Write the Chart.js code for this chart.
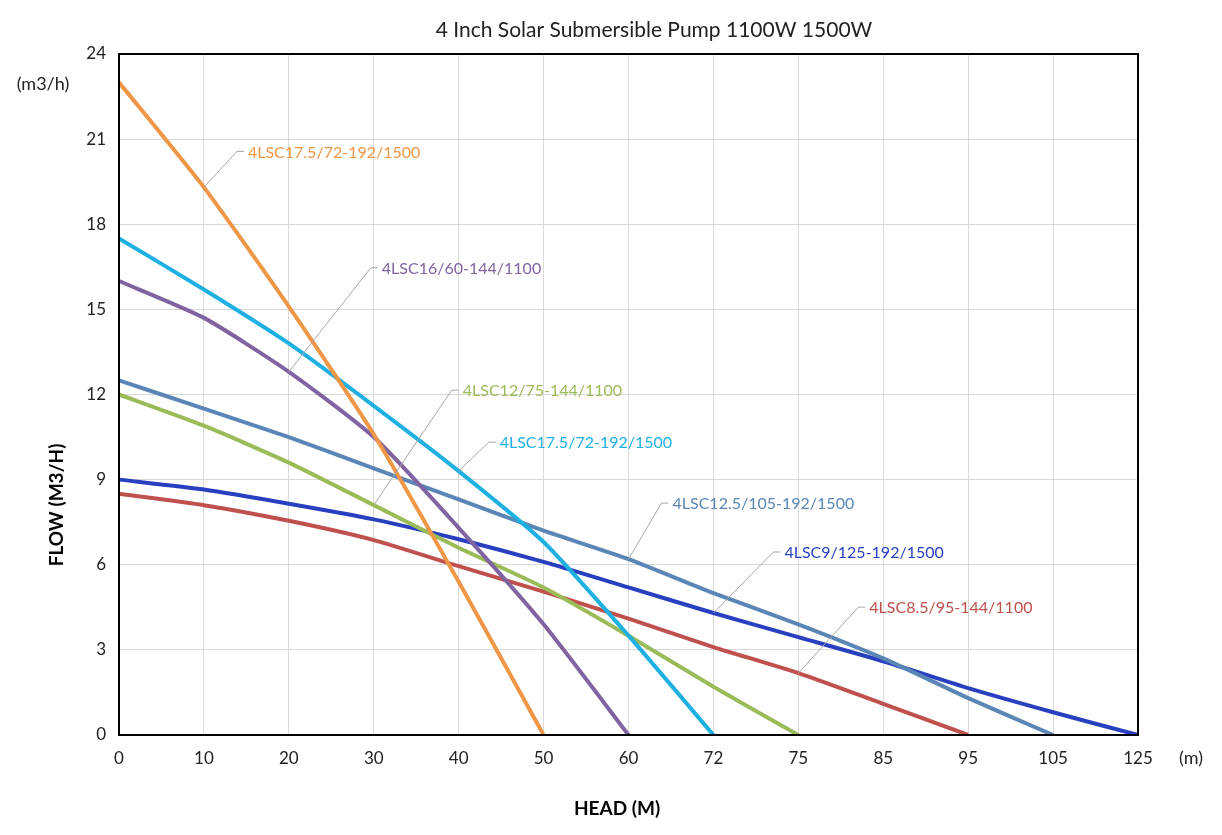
<!DOCTYPE html>
<html>
<head>
<meta charset="utf-8">
<script src="https://cdn.jsdelivr.net/npm/chart.js@4.4.1/dist/chart.umd.min.js"></script>
<style>
  body { margin: 0; background: #fff; }
  canvas { display: block; }
</style>
</head>
<body>
<canvas id="pump" width="1222" height="835"></canvas>
<script>
// head (m) categories along the x axis
var heads = ['0', '10', '20', '30', '40', '50', '60', '72', '75', '85', '95', '105', '125'];

// flow (m3/h) for each pump
var flowOrange = [23, 19.3, 15.1, 10.6, 5.4, 0];
var flowPurple = [16, 14.7, 12.8, 10.5, 7.3, 3.9, 0];
var flowCyan   = [17.5, 15.7, 13.8, 11.6, 9.3, 6.8, 3.5, 0];
var flowSteel  = [12.5, 11.5, 10.5, 9.4, 8.3, 7.2, 6.2, 5.0, 3.9, 2.7, 1.3, 0];
var flowGreen  = [12, 10.9, 9.6, 8.1, 6.6, 5.2, 3.5, 1.7, 0];
var flowBlue   = [9, 8.65, 8.15, 7.6, 6.9, 6.1, 5.2, 4.3, 3.45, 2.6, 1.65, 0.8, 0];
var flowRed    = [8.5, 8.1, 7.55, 6.87, 5.95, 5.05, 4.1, 3.1, 2.18, 1.1, 0];

var pumpNames = ['4LSC17.5/72-192/1500', '4LSC16/60-144/1100', '4LSC17.5/72-192/1500',
  '4LSC12.5/105-192/1500', '4LSC12/75-144/1100', '4LSC9/125-192/1500', '4LSC8.5/95-144/1100'];

var flowTicks = [0, 3, 6, 9, 12, 15, 18, 21, 24];

// where each callout leaves its curve (category index) and how far the label sits
var callouts = [
  { idx: 1, dx: 33, dy: -36 },
  { idx: 2, dx: 82, dy: -104 },
  { idx: 4, dx: 30, dy: -29 },
  { idx: 6, dx: 33, dy: -56 },
  { idx: 3, dx: 78, dy: -115 },
  { idx: 7, dx: 60, dy: -61 },
  { idx: 8, dx: 60, dy: -66 }
];

var colors = ['#ef9647', '#8064a2', '#1eb0e2', '#5a86b6', '#9bbb59', '#2840bf', '#c0504d'];
var FONT = 'Lato, "Open Sans", sans-serif';

function line(name, data, color) {
  return {
    label: name,
    data: data,
    borderColor: color,
    backgroundColor: color,
    borderWidth: 4,
    pointRadius: 0,
    tension: 0.2,
    fill: false
  };
}

var overlay = {
  id: 'overlay',
  afterDraw: function (chart) {
    var ctx = chart.ctx;
    var a = chart.chartArea;
    ctx.save();

    // plot frame
    ctx.strokeStyle = '#000';
    ctx.lineWidth = 2;
    ctx.strokeRect(a.left, a.top, a.right - a.left, a.bottom - a.top);

    // callout leaders and labels
    ctx.font = '16px ' + FONT;
    ctx.textBaseline = 'middle';
    ctx.textAlign = 'left';
    chart.data.datasets.forEach(function (ds, i) {
      var c = callouts[i];
      var pt = chart.getDatasetMeta(i).data[c.idx];
      var ex = pt.x + c.dx, ey = pt.y + c.dy;
      ctx.strokeStyle = '#a6a6a6';
      ctx.lineWidth = 1;
      ctx.beginPath();
      ctx.moveTo(pt.x, pt.y);
      ctx.lineTo(ex, ey);
      ctx.lineTo(ex + 7, ey);
      ctx.stroke();
      ctx.fillStyle = ds.borderColor;
      ctx.fillText(ds.label, ex + 11, ey + 1);
    });

    // titles and unit notes
    ctx.fillStyle = '#222';
    ctx.textAlign = 'center';
    ctx.font = '21px ' + FONT;
    ctx.fillText('4 Inch Solar Submersible Pump 1100W 1500W', 654, 30);
    ctx.font = '18px ' + FONT;
    ctx.fillText('(m3/h)', 43, 84);
    ctx.fillText('(m)', 1191, 758);
    ctx.fillStyle = '#000';
    ctx.font = 'bold 19px ' + FONT;
    ctx.fillText('HEAD (M)', 617, 809);
    ctx.translate(57, 505);
    ctx.rotate(-Math.PI / 2);
    ctx.fillText('FLOW (M3/H)', 0, 0);
    ctx.restore();
  }
};

var chart = new Chart(document.getElementById('pump').getContext('2d'), {
  type: 'line',
  data: {
    labels: heads,
    datasets: [
      line(pumpNames[0], flowOrange, colors[0]),
      line(pumpNames[1], flowPurple, colors[1]),
      line(pumpNames[2], flowCyan, colors[2]),
      line(pumpNames[3], flowSteel, colors[3]),
      line(pumpNames[4], flowGreen, colors[4]),
      line(pumpNames[5], flowBlue, colors[5]),
      line(pumpNames[6], flowRed, colors[6])
    ]
  },
  options: {
    responsive: false,
    animation: false,
    layout: { padding: { top: 54, right: 84, left: 0, bottom: 0 } },
    plugins: {
      legend: { display: false },
      title: { display: false },
      tooltip: { enabled: false }
    },
    scales: {
      x: {
        type: 'category',
        offset: false,
        grid: { color: '#d9d9d9', drawTicks: false },
        border: { display: false },
        ticks: { color: '#222', padding: 13, font: { family: FONT, size: 17 }, maxRotation: 0, autoSkip: false },
        afterFit: function (s) { s.height = 100; }
      },
      y: {
        min: 0,
        max: 24,
        afterBuildTicks: function (s) { s.ticks = flowTicks.map(function (v) { return { value: v }; }); },
        grid: { color: '#d9d9d9', drawTicks: false },
        border: { display: false },
        ticks: { color: '#222', padding: 13, font: { family: FONT, size: 17 } },
        afterFit: function (s) { s.width = 119; }
      }
    }
  },
  plugins: [overlay]
});
</script>
</body>
</html>
